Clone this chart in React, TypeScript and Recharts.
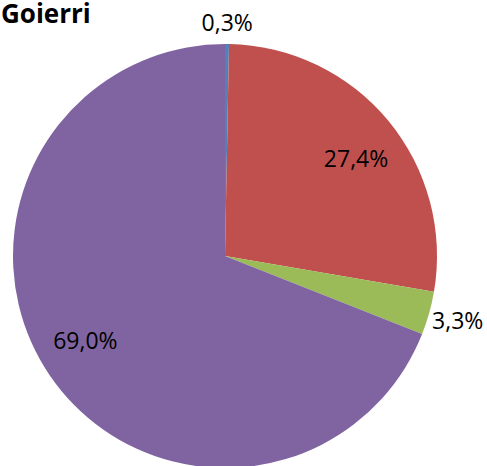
import { PieChart, Pie, Cell } from "recharts";

const categories = ["A", "B", "C", "D"];
const shares = [0.3, 27.4, 3.3, 69.0];
const labels = ["0,3%", "27,4%", "3,3%", "69,0%"];

const COLORS = ["#4F81BD", "#C0504D", "#9BBB59", "#8064A2"];
const RAD = Math.PI / 180;

const data = categories.map((name, i) => ({ name, value: shares[i], label: labels[i] }));

const renderLabel = (props: any) => {
  const { cx, cy, midAngle, outerRadius, index } = props;
  const outside = shares[index] < 10;
  // small slices get their label outside, the big ones inside (nudged a bit clockwise)
  const a = outside ? midAngle : midAngle - 3;
  const c = Math.cos(-a * RAD);
  const s = Math.sin(-a * RAD);
  const r = outside ? outerRadius + 21 + 9 * Math.abs(c) : outerRadius * 0.77;
  const x = cx + c * r;
  const y = cy + s * r;
  return (
    <text
      x={x}
      y={y + 8}
      textAnchor="middle"
      fill="#000"
      fontSize={23}
      fontFamily="'Open Sans', sans-serif"
    >
      {labels[index]}
    </text>
  );
};

export default function App() {
  return (
    <div style={{ position: "absolute", left: 0, top: 0, width: 487, height: 466, background: "#fff" }}>
      <PieChart width={487} height={466} margin={{ top: 0, right: 0, bottom: 0, left: 0 }}>
        <Pie
          data={data}
          dataKey="value"
          nameKey="name"
          cx={225}
          cy={256}
          outerRadius={212}
          startAngle={90}
          endAngle={-270}
          stroke="none"
          label={renderLabel}
          labelLine={false}
          isAnimationActive={false}
        >
          {data.map((_, i) => (
            <Cell key={`cell-${i}`} fill={COLORS[i % COLORS.length]} />
          ))}
        </Pie>
      </PieChart>
      <div
        style={{
          position: "absolute",
          left: 1,
          top: 0,
          fontFamily: "'Open Sans', sans-serif",
          fontWeight: 700,
          fontSize: 26,
          lineHeight: "26px",
          color: "#000",
        }}
      >
        Goierri
      </div>
    </div>
  );
}
